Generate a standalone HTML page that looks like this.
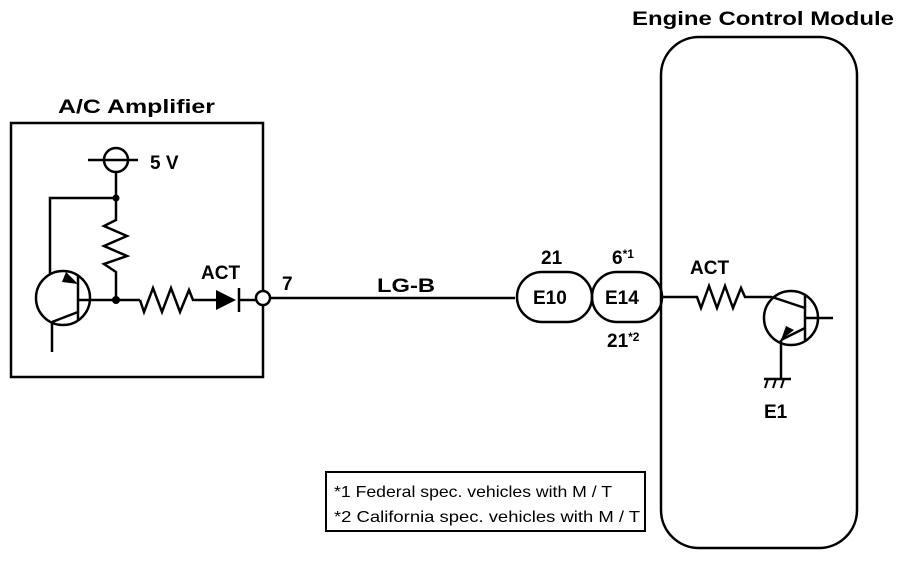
<!DOCTYPE html>
<html><head><meta charset="utf-8"><style>
html,body{margin:0;padding:0;background:#fff}
svg{display:block}
text{font-family:"Liberation Sans",Arial,sans-serif;fill:#000}
</style></head><body>
<svg width="912" height="562" viewBox="0 0 912 562" xmlns="http://www.w3.org/2000/svg">
<g fill="none" stroke="#000" stroke-width="2.5" stroke-linejoin="miter">
<rect x="11" y="123" width="252" height="254"/>
<circle cx="116" cy="160" r="12"/>
<line x1="88" y1="160" x2="138" y2="160"/>
<line x1="116" y1="172" x2="116" y2="198"/>
<polyline points="50,275 50,198 116,198 116,220 104,226 127,236 104,246 127,256 104,264 116,272 116,300"/>
<circle cx="63" cy="298" r="27"/>
<line x1="78" y1="276" x2="78" y2="320"/>
<line x1="78" y1="300" x2="140" y2="300"/>
<line x1="78" y1="312" x2="52" y2="322"/>
<line x1="52" y1="322" x2="52" y2="352"/>
<polyline points="140,300 144,312 153,288 162,312 171,288 180,312 189,290 193,300 216,300"/>
<line x1="239" y1="288" x2="239" y2="312"/>
<line x1="239" y1="300" x2="256" y2="300"/>
<line x1="270" y1="298" x2="515" y2="298"/>
<circle cx="263" cy="298" r="7" fill="#fff"/>
<rect x="517" y="272" width="75" height="50" rx="25"/>
<rect x="592" y="272" width="70" height="50" rx="25"/>
<rect x="661" y="37" width="196" height="511" rx="38"/>
<polyline points="662,297 697,297 701,308 709,286 717,308 725,286 733,308 741,288 745,297 772,297"/>
<circle cx="791" cy="318" r="27"/>
<line x1="805" y1="296" x2="805" y2="340"/>
<line x1="805" y1="318" x2="833" y2="318"/>
<line x1="772" y1="297" x2="805" y2="308"/>
<line x1="805" y1="328" x2="781" y2="340"/>
<line x1="781" y1="340" x2="781" y2="378"/>
<line x1="764" y1="379" x2="791" y2="379"/>
<line x1="768" y1="379" x2="765" y2="388" stroke-width="2"/>
<line x1="776" y1="379" x2="773" y2="388" stroke-width="2"/>
<line x1="784" y1="379" x2="781" y2="388" stroke-width="2"/>
<rect x="326" y="472" width="319" height="59" stroke-width="2"/>
</g>
<g fill="#000">
<circle cx="116" cy="198" r="3.5"/>
<circle cx="116" cy="300" r="4"/>
<polygon points="216,290 216,310 236,300"/>
<polygon points="78,284 66,272 62,282"/>
<polygon points="781,340 794,330 786,326"/>
</g>
<g font-size="19" font-weight="bold">
<text x="58" y="113" textLength="157" lengthAdjust="spacingAndGlyphs">A/C Amplifier</text>
<text x="150" y="169">5 V</text>
<text x="201" y="279">ACT</text>
<text x="282" y="290">7</text>
<text x="377" y="292" textLength="58" lengthAdjust="spacingAndGlyphs">LG-B</text>
<text x="541" y="264">21</text>
<text x="612" y="264">6<tspan font-size="12" dy="-6">*1</tspan></text>
<text x="607" y="347">21<tspan font-size="12" dy="-6">*2</tspan></text>
<text x="533" y="304">E10</text>
<text x="605" y="304">E14</text>
<text x="690" y="274">ACT</text>
<text x="632" y="25" textLength="262" lengthAdjust="spacingAndGlyphs">Engine Control Module</text>
<text x="764" y="418">E1</text>
</g>
<g font-size="16">
<text x="334" y="497" textLength="278" lengthAdjust="spacingAndGlyphs">*1 Federal spec. vehicles with M / T</text>
<text x="334" y="522" textLength="306" lengthAdjust="spacingAndGlyphs">*2 California spec. vehicles with M / T</text>
</g>
</svg>
</body></html>
